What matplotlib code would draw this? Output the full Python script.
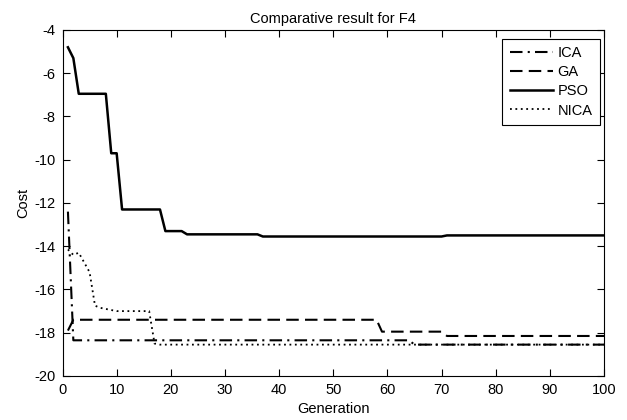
import matplotlib
matplotlib.use('Agg')
import matplotlib.pyplot as plt

plt.rcParams['font.family'] = ['Liberation Sans', 'DejaVu Sans']
plt.rcParams['font.size'] = 10.5
plt.rcParams['axes.unicode_minus'] = False

# values (generation, cost) at the points where a curve changes
ica_gen = [1, 2, 64, 65, 100]
ica_cost = [-12.4, -18.35, -18.35, -18.55, -18.55]

ga_gen = [1, 2, 58, 59, 70, 71, 100]
ga_cost = [-17.9, -17.4, -17.4, -17.95, -17.95, -18.15, -18.15]

pso_gen = [1, 2, 3, 8, 9, 10, 11, 18, 19, 22, 23, 36, 37, 70, 71, 100]
pso_cost = [-4.8, -5.3, -6.95, -6.95, -9.7, -9.7, -12.3, -12.3, -13.3, -13.3,
            -13.45, -13.45, -13.55, -13.55, -13.5, -13.5]

nica_gen = [1, 2, 3, 4, 5, 6, 7, 8, 9, 10, 16, 17, 18, 100]
nica_cost = [-14.15, -14.4, -14.3, -14.75, -15.2, -16.75, -16.85, -16.9, -16.95,
             -17.0, -17.0, -18.5, -18.55, -18.55]

fig = plt.figure(figsize=(6.27, 4.2), dpi=100)
ax = fig.add_axes([0.0997, 0.1048, 0.8636, 0.8238])

ax.plot(ica_gen, ica_cost, color='black', lw=1.5, ls=(0, (6, 2.5, 1, 2.5)), label='ICA')
ax.plot(ga_gen, ga_cost, color='black', lw=1.5, ls=(0, (6, 3)), label='GA')
ax.plot(pso_gen, pso_cost, color='black', lw=1.8, ls='-', label='PSO')
ax.plot(nica_gen, nica_cost, color='black', lw=1.3, ls=(0, (1, 2)), label='NICA')

ax.set_xlim(0, 100)
ax.set_ylim(-20, -4)
ax.set_xticks(range(0, 101, 10))
ax.set_yticks(range(-20, -3, 2))
ax.tick_params(direction='in', top=True, right=True, length=5, width=0.8, pad=5)
for s in ax.spines.values():
    s.set_linewidth(0.8)

ax.set_xlabel('Generation', labelpad=4)
ax.set_ylabel('Cost', labelpad=3)
ax.set_title('Comparative result for F4', pad=5, fontsize=10.5)

leg = ax.legend(loc='upper right', bbox_to_anchor=(0.9926, 0.974), borderaxespad=0,
                fancybox=False, framealpha=1, edgecolor='black', handlelength=3.0,
                handletextpad=0.3, labelspacing=0.35, borderpad=0.5)
leg.get_frame().set_linewidth(0.8)

fig.savefig('out.png', dpi=100)
